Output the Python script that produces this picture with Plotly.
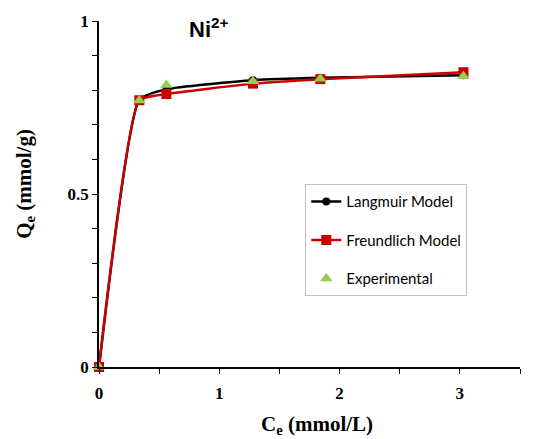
import plotly.graph_objects as go

ce = [0, 0.335, 0.56, 1.28, 1.84, 3.03]
langmuir = [0, 0.772, 0.803, 0.829, 0.836, 0.843]
freundlich = [0, 0.771, 0.789, 0.819, 0.832, 0.852]
experimental = [0, 0.770, 0.815, 0.826, 0.833, 0.840]

fig = go.Figure()
fig.add_trace(go.Scatter(x=ce, y=langmuir, name="Langmuir Model", legendgroup="a",
                         mode="lines+markers", line=dict(color="black", width=2.5, shape="spline", smoothing=0.45),
                         marker=dict(symbol="circle", size=8, color="black"), cliponaxis=False))
fig.add_trace(go.Scatter(x=ce, y=freundlich, name="Freundlich Model", legendgroup="b",
                         mode="lines+markers", line=dict(color="#cc0000", width=2.5, shape="spline", smoothing=0.45),
                         marker=dict(symbol="square", size=10, color="#cc0000"), cliponaxis=False))
fig.add_trace(go.Scatter(x=ce, y=experimental, name="Experimental", legendgroup="c",
                         mode="markers",
                         marker=dict(symbol="triangle-up", size=11, color="#92d050"), cliponaxis=False))

axis_font = dict(family="Liberation Serif", size=17, color="black", weight="bold")
title_font = dict(family="Liberation Serif", size=21, color="black", weight="bold")
fig.update_layout(
    width=541, height=439,
    margin=dict(l=99, r=21, t=19, b=72),
    plot_bgcolor="white", paper_bgcolor="white",
    showlegend=True,
    legend=dict(x=0.49, y=0.528, xanchor="left", yanchor="top",
                bordercolor="#bfbfbf", borderwidth=1, bgcolor="white",
                font=dict(family="Lato", size=15, color="black"),
                tracegroupgap=16, itemwidth=30),
    annotations=[
        dict(text="Ni<sup>2+</sup>", x=0.262, y=1.025, xref="paper", yref="paper",
             showarrow=False, xanchor="center", yanchor="top",
             font=dict(family="Liberation Sans Narrow, Liberation Sans", size=22, color="black", weight="bold")),
        dict(text="C<sub>e</sub> (mmol/L)", x=0.518, y=-0.167, xref="paper", yref="paper",
             showarrow=False, xanchor="center", yanchor="middle", font=title_font),
        dict(text="Q<sub>e</sub> (mmol/g)", x=-0.176, y=0.529, xref="paper", yref="paper",
             showarrow=False, xanchor="center", yanchor="middle", textangle=-90, font=title_font),
    ],
)
fig.update_xaxes(range=[0, 3.5], tickvals=[0, 1, 2, 3], ticklabelstandoff=5,
                 showline=True, linecolor="black", linewidth=1.5, ticks="outside", ticklen=5, tickcolor="black",
                 minor=dict(dtick=0.5, ticks="outside", ticklen=5, tickcolor="black"),
                 showgrid=False, zeroline=False, tickfont=axis_font)
fig.update_yaxes(range=[0, 1], tickvals=[0, 0.5, 1], ticktext=["0", "0.5", "1"],
                 showline=True, linecolor="black", linewidth=1.5, ticks="outside", ticklen=5, tickcolor="black",
                 minor=dict(dtick=0.1, ticks="outside", ticklen=5, tickcolor="black"),
                 showgrid=False, zeroline=False, tickfont=axis_font)

fig.write_html("out.html")
